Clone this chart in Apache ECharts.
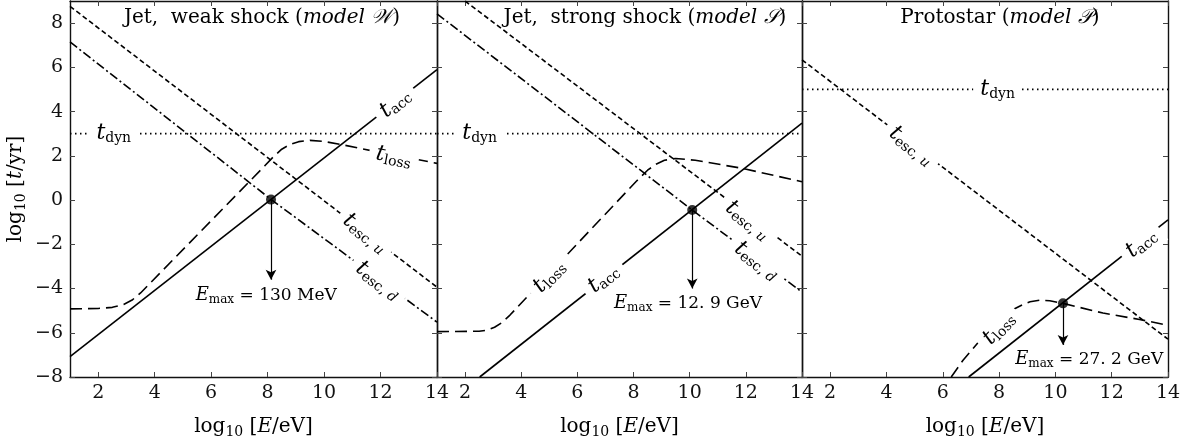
<!DOCTYPE html>
<html><head><meta charset="utf-8">
<script src="https://cdn.jsdelivr.net/npm/echarts@6/dist/echarts.min.js"></script>
<style>html,body{margin:0;padding:0;background:#fff}#c{width:1185px;height:444px}</style>
</head><body><div id="c"></div>
<script>
// ---------- data ----------
const xTickValues = [2, 4, 6, 8, 10, 12, 14];
const yTickValues = [-8, -6, -4, -2, 0, 2, 4, 6, 8];
const panelNames = ['Jet,  weak shock (', 'Jet,  strong shock (', 'Protostar ('];
const panelModels = ['𝒲', '𝒮', '𝒫'];

// model W
const W_acc  = [[1, -7.08], [14, 5.9]];
const W_loss = [[1, -4.92], [2, -4.9], [2.5, -4.85], [2.9, -4.72], [3.2, -4.52], [3.5, -4.2], [7.9, 1.55], [8.2, 1.95], [8.5, 2.3], [8.8, 2.52], [9.1, 2.64], [9.5, 2.7], [10.0, 2.65], [10.57, 2.52], [12, 2.15], [14, 1.66]];
const W_escU = [[1, 8.76], [14, -3.94]];
const W_escD = [[1, 7.15], [8.12, 0.03], [14, -5.52]];
const W_dyn  = [[1, 3], [14, 3]];
const W_emax = [8.12, 0.02];
const W_emaxArrowEnd = -3.6;
const W_emaxText = '130 MeV';
const W_emaxTextAt = [7.95, -4.3];
const W_labels = [['acc', 12.52, 4.38], ['loss', 12.47, 1.95], ['escu', 11.46, -1.5], ['escd', 11.92, -3.65], ['dyn', 2.55, 3]];
const W_labelAngles = [38.8, -11, -38, -37, 0];

// model S
const S_acc  = [[2.52, -8], [14, 3.48]];
const S_loss = [[1, -5.95], [2.5, -5.93], [2.8, -5.88], [3.05, -5.75], [3.3, -5.55], [3.6, -5.2], [8.1, 0.85], [8.5, 1.35], [8.8, 1.62], [9.1, 1.8], [9.5, 1.88], [10.2, 1.8], [11.85, 1.44], [14, 0.83]];
const S_escU = [[2.0, 9.0], [14, -2.54]];
const S_escD = [[1, 8.42], [10.09, -0.45], [14, -4.16]];
const S_dyn  = [[1, 3], [14, 3]];
const S_emax = [10.09, -0.45];
const S_emaxArrowEnd = -4.0;
const S_emaxText = '12. 9 GeV';
const S_emaxTextAt = [9.94, -4.67];
const S_labels = [['loss', 5.0, -3.45], ['acc', 6.93, -3.55], ['escu', 12.07, -0.92], ['escd', 12.39, -2.75], ['dyn', 2.52, 3]];
const S_labelAngles = [46.5, 38.8, -38, -37, 0];

// model P
const P_acc  = [[6.92, -8], [14, -0.9]];
const P_loss = [[6.3, -8.0], [6.72, -7.24], [7.31, -6.36], [7.8, -5.7], [8.14, -5.3], [8.5, -4.95], [8.85, -4.72], [9.1, -4.6], [9.44, -4.53], [9.8, -4.55], [10.27, -4.67], [11.69, -5.11], [12.99, -5.4], [14, -5.66]];
const P_escU = [[1, 6.34], [14, -6.29]];
const P_dyn  = [[1, 5], [14, 5]];
const P_emax = [10.27, -4.67];
const P_emaxArrowEnd = -6.55;
const P_emaxText = '27. 2 GeV';
const P_emaxTextAt = [11.2, -7.2];
const P_labels = [['escu', 4.89, 2.45], ['acc', 13.05, -1.95], ['loss', 7.99, -5.8], ['dyn', 7.95, 5]];
const P_labelAngles = [-38, 38.8, 47, 0];

// ---------- styling ----------
const SERIF = "'DejaVu Serif','Liberation Serif',serif";
const INK = '#000';
const rich = {
  t:  {fontFamily: SERIF, fontStyle: 'italic', fontSize: 22, lineHeight: 24, color: INK},
  s:  {fontFamily: SERIF, fontSize: 14, lineHeight: 13, verticalAlign: 'bottom', color: INK},
  si: {fontFamily: SERIF, fontStyle: 'italic', fontSize: 14, lineHeight: 13, verticalAlign: 'bottom', color: INK},
  n:  {fontFamily: SERIF, fontSize: 17, lineHeight: 22, color: INK},
  e:  {fontFamily: SERIF, fontStyle: 'italic', fontSize: 18, lineHeight: 22, color: INK},
  es: {fontFamily: SERIF, fontSize: 12, lineHeight: 11, verticalAlign: 'bottom', color: INK},
  r:  {fontFamily: SERIF, fontSize: 20, lineHeight: 26, color: INK},
  i:  {fontFamily: SERIF, fontStyle: 'italic', fontSize: 20, lineHeight: 26, color: INK},
  an: {fontFamily: SERIF, fontSize: 20, lineHeight: 24, color: INK},
  ai: {fontFamily: SERIF, fontStyle: 'italic', fontSize: 20, lineHeight: 24, color: INK},
  as: {fontFamily: SERIF, fontSize: 14, lineHeight: 13, verticalAlign: 'bottom', color: INK}
};
const labelText = {
  acc: '{t|t}{s|acc}', loss: '{t|t}{s|loss}', dyn: '{t|t}{s|dyn}',
  escu: '{t|t}{s|esc, }{si|u}', escd: '{t|t}{s|esc, }{si|d}'
};

const grids = [
  {left: 70, top: 1, width: 367, height: 386},
  {left: 437, top: 1, width: 365, height: 386},
  {left: 802, top: 1, width: 366, height: 386}
];

const panels = [
  {acc: W_acc, loss: W_loss, escU: W_escU, escD: W_escD, dyn: W_dyn, emax: W_emax, arrowEnd: W_emaxArrowEnd, eText: W_emaxText, eAt: W_emaxTextAt, labels: W_labels, angles: W_labelAngles},
  {acc: S_acc, loss: S_loss, escU: S_escU, escD: S_escD, dyn: S_dyn, emax: S_emax, arrowEnd: S_emaxArrowEnd, eText: S_emaxText, eAt: S_emaxTextAt, labels: S_labels, angles: S_labelAngles},
  {acc: P_acc, loss: P_loss, escU: P_escU, escD: null, dyn: P_dyn, emax: P_emax, arrowEnd: P_emaxArrowEnd, eText: P_emaxText, eAt: P_emaxTextAt, labels: P_labels, angles: P_labelAngles}
];

const xAxes = [], yAxes = [], series = [];
const frame = {color: '#111', width: 1.4};
const tick = (vals) => ({show: true, inside: true, length: 5, customValues: vals, lineStyle: {color: '#444', width: 1}});

panels.forEach((p, i) => {
  xAxes.push({
    type: 'value', gridIndex: i, min: 1, max: 14, position: 'bottom',
    axisLine: {show: true, onZero: false, lineStyle: frame},
    axisTick: tick(xTickValues),
    axisLabel: {customValues: xTickValues, fontFamily: SERIF, fontSize: 19, color: '#111', margin: 7},
    splitLine: {show: false},
    name: '{an|log}{as|10}{an| [}{ai|E}{an|/eV]}', nameLocation: 'middle', nameGap: 38,
    nameTextStyle: {rich: rich}
  });
  xAxes.push({
    type: 'value', gridIndex: i, min: 1, max: 14, position: 'top',
    axisLine: {show: true, onZero: false, lineStyle: frame},
    axisTick: tick(xTickValues), axisLabel: {show: false}, splitLine: {show: false}
  });
  yAxes.push({
    type: 'value', gridIndex: i, min: -8, max: 9, position: 'left',
    axisLine: {show: true, onZero: false, lineStyle: frame},
    axisTick: tick(yTickValues),
    axisLabel: {show: i === 0, customValues: yTickValues, fontFamily: SERIF, fontSize: 19, color: '#111', margin: 7,
      formatter: v => (v < 0 ? '\u2212' + (-v) : String(v))},
    splitLine: {show: false},
    name: i === 0 ? '{an|log}{as|10}{an| [}{ai|t}{an|/yr]}' : '', nameLocation: 'middle', nameGap: 42, nameRotate: 90,
    nameTextStyle: {rich: rich}
  });
  yAxes.push({
    type: 'value', gridIndex: i, min: -8, max: 9, position: 'right',
    axisLine: {show: true, onZero: false, lineStyle: frame},
    axisTick: tick(yTickValues), axisLabel: {show: false}, splitLine: {show: false}
  });
  const xi = 2 * i, yi = 2 * i;
  const base = {type: 'line', xAxisIndex: xi, yAxisIndex: yi, showSymbol: false, symbol: 'none', z: 2, silent: true};
  series.push(Object.assign({}, base, {data: p.acc, lineStyle: {color: INK, width: 1.6, type: 'solid'}}));
  series.push(Object.assign({}, base, {data: p.loss, lineStyle: {color: INK, width: 1.6, type: [12, 6], join: 'round'}}));
  series.push(Object.assign({}, base, {data: p.escU, lineStyle: {color: INK, width: 1.6, type: [5, 3]}}));
  if (p.escD) series.push(Object.assign({}, base, {data: p.escD, lineStyle: {color: INK, width: 1.6, type: [9, 3, 2, 3]}}));
  series.push(Object.assign({}, base, {data: p.dyn, lineStyle: {color: INK, width: 1.8, type: [1.5, 3.5]}}));
  // curve labels
  series.push({
    type: 'scatter', xAxisIndex: xi, yAxisIndex: yi, z: 5, silent: true, symbolSize: 0,
    itemStyle: {color: '#fff'},
    data: p.labels.map((l, k) => ({
      value: [l[1], l[2]],
      label: {show: true, position: 'inside', formatter: labelText[l[0]], rotate: p.angles[k],
        color: INK, textBorderWidth: 0, opacity: 1,
        backgroundColor: '#fff', padding: [2, 7, 2, 7], rich: rich}
    }))
  });
  // E_max point + arrow
  series.push({
    type: 'scatter', xAxisIndex: xi, yAxisIndex: yi, z: 6, silent: true, symbolSize: 10,
    itemStyle: {color: INK}, data: [p.emax],
    markLine: {silent: true, symbol: ['none', 'arrow'], symbolSize: [8, 10], animation: false,
      label: {show: false}, lineStyle: {color: INK, width: 1.2, type: 'solid'},
      data: [[{coord: p.emax}, {coord: [p.emax[0], p.arrowEnd]}]]}
  });
  series.push({
    type: 'scatter', xAxisIndex: xi, yAxisIndex: yi, z: 6, silent: true, symbolSize: 0,
    itemStyle: {color: '#fff'},
    data: [{value: p.eAt, label: {show: true, position: 'inside', color: INK, textBorderWidth: 0, opacity: 1,
      backgroundColor: '#fff', padding: [0, 2, 0, 2],
      formatter: '{e|E}{es|max}{n| = ' + p.eText + '}', rich: rich}}]
  });
});

const titleCenters = [262, 645, 1000];
const graphic = panelNames.map((nm, i) => ({
  type: 'text', x: titleCenters[i], y: 18, z: 10,
  style: {text: '{r|' + nm + '}{i|model ' + panelModels[i] + '}{r|)}', rich: rich, align: 'center', verticalAlign: 'middle'}
}));

const chart = echarts.init(document.getElementById('c'), null, {renderer: 'canvas'});
chart.setOption({
  animation: false, backgroundColor: '#fff',
  grid: grids, xAxis: xAxes, yAxis: yAxes, series: series, graphic: graphic
});
</script></body></html>
